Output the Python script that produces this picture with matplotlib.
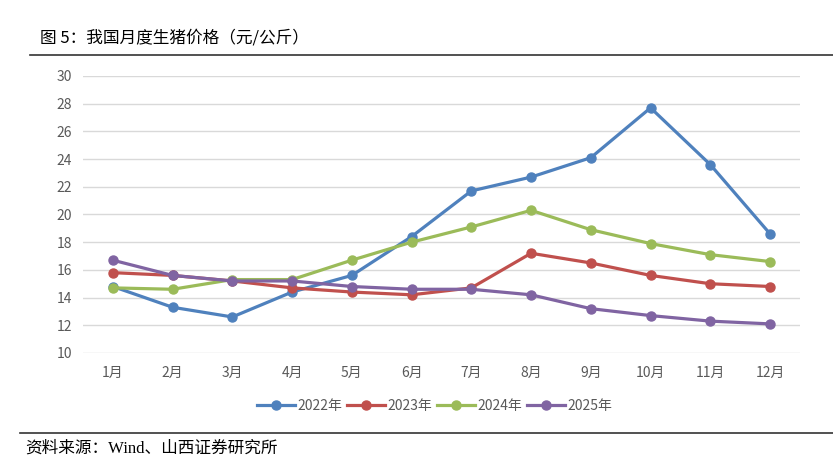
import matplotlib
matplotlib.use("Agg")
import matplotlib.pyplot as plt
from matplotlib.lines import Line2D

plt.rcParams["font.family"] = ["Noto Sans CJK SC", "DejaVu Sans"]

# monthly hog price, yuan/kg
months = ["1月", "2月", "3月", "4月", "5月", "6月",
          "7月", "8月", "9月", "10月", "11月", "12月"]
price_2022 = [14.8, 13.3, 12.6, 14.4, 15.6, 18.4, 21.7, 22.7, 24.1, 27.7, 23.6, 18.6]
price_2023 = [15.8, 15.6, 15.2, 14.7, 14.4, 14.2, 14.7, 17.2, 16.5, 15.6, 15.0, 14.8]
price_2024 = [14.7, 14.6, 15.3, 15.3, 16.7, 18.0, 19.1, 20.3, 18.9, 17.9, 17.1, 16.6]
price_2025 = [16.7, 15.6, 15.2, 15.2, 14.8, 14.6, 14.6, 14.2, 13.2, 12.7, 12.3, 12.1]

series = [
    ("2022年", price_2022, "#4F81BD"),
    ("2023年", price_2023, "#C0504D"),
    ("2024年", price_2024, "#9BBB59"),
    ("2025年", price_2025, "#8064A2"),
]

fig = plt.figure(figsize=(8.33, 4.58), dpi=100)
ax = fig.add_axes([0.0996, 0.2293, 0.8607, 0.6048])

x = list(range(len(months)))
for name, vals, col in series:
    ax.plot(x, vals, color=col, lw=2.3, marker="o", markersize=6.5,
            label=name, solid_capstyle="round", zorder=3)

ax.set_xlim(-0.5, len(months) - 0.5)
ax.set_ylim(10, 30)
ax.set_yticks(range(10, 31, 2))
ax.set_xticks(x)
ax.set_xticklabels(months)
ax.grid(axis="y", color="#D9D9D9", lw=1)
ax.set_axisbelow(True)
for s in ax.spines.values():
    s.set_visible(False)
ax.tick_params(axis="both", length=0, colors="#595959", labelsize=10)
ax.tick_params(axis="y", pad=8)
ax.tick_params(axis="x", pad=9)

handles = [Line2D([0], [0], color=c, lw=2.3, marker="o", markersize=6.5)
           for _, _, c in series]
leg = fig.legend(handles, [s[0] for s in series], loc="center",
                 bbox_to_anchor=(0.522, 0.113), ncol=4, frameon=False,
                 fontsize=10, handlelength=2.7, handletextpad=0.2,
                 columnspacing=0.35)
for t in leg.get_texts():
    t.set_color("#595959")

# title and rules
fig.text(0.048, 0.917, "图 5：我国月度生猪价格（元/公斤）", fontsize=12,
         va="center", ha="left", color="black")
fig.add_artist(Line2D([0.036, 1.0], [0.88, 0.88], color="#333333", lw=1.2))
fig.add_artist(Line2D([0.024, 1.0], [0.054, 0.054], color="#333333", lw=1.2))
fig.text(0.030, 0.004, "资料来源：Wind、山西证券研究所", fontsize=12,
         va="bottom", ha="left", color="black",
         family=["Liberation Serif", "Noto Sans CJK SC"])

fig.savefig("out.png", dpi=100)
